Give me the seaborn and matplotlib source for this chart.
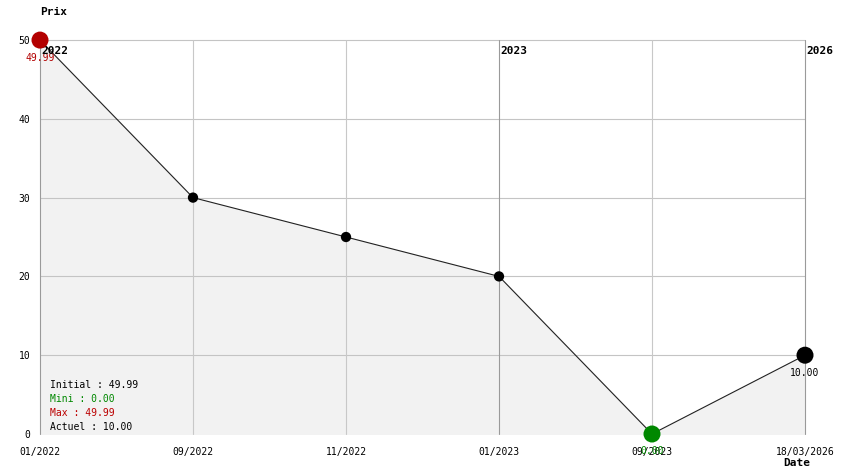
import matplotlib
matplotlib.use("Agg")
import matplotlib.pyplot as plt
import seaborn as sns
import pandas as pd

dates = ["01/2022", "09/2022", "11/2022", "01/2023", "09/2023", "18/03/2026"]
prices = [49.99, 30.0, 25.0, 20.0, 0.0, 10.0]
year_marks = {0: "2022", 3: "2023", 5: "2026"}
summary = [("Initial : 49.99", "black"), ("Mini : 0.00", "#008800"),
           ("Max : 49.99", "#bb0000"), ("Actuel : 10.00", "black")]

sns.set_theme(style="white")
plt.rcParams["font.family"] = ["DejaVu Sans Mono"]
plt.rcParams["text.color"] = "black"
plt.rcParams["xtick.color"] = "black"
plt.rcParams["ytick.color"] = "black"

df = pd.DataFrame({"pos": range(len(dates)), "price": prices})

fig = plt.figure(figsize=(8.44, 4.74), dpi=100)
ax = fig.add_axes([40/844, 1-434/474, 765/844, 394/474])
ax.set_xlim(0, 5)
ax.set_ylim(0, 50)

# fill under the curve
ax.fill_between(df["pos"], df["price"], 0, color="#f2f2f2", zorder=0)

# grid
for y in [10, 20, 30, 40, 50]:
    ax.axhline(y, color="#c4c4c4", lw=0.8, zorder=1, clip_on=False)
for i in range(len(dates)):
    c = "#9a9a9a" if i in year_marks else "#c8c8c8"
    ax.axvline(i, color=c, lw=0.8, zorder=1, clip_on=False)

sns.lineplot(data=df, x="pos", y="price", color="#222222", lw=0.8, ax=ax, zorder=2)
mid = df.iloc[1:4]
sns.scatterplot(data=mid, x="pos", y="price", color="black", s=55, edgecolor="none", ax=ax, zorder=3)
imax = int(df["price"].idxmax()); imin = int(df["price"].idxmin()); ilast = len(df) - 1
for idx, col in [(imax, "#b30000"), (imin, "#008800"), (ilast, "black")]:
    sns.scatterplot(x=[idx], y=[prices[idx]], color=col, s=150, edgecolor="none", ax=ax, zorder=6, clip_on=False)

for s in ax.spines.values():
    s.set_visible(False)

ax.set_xticks(range(len(dates)))
ax.set_xticklabels(dates, fontsize=7)
ax.set_yticks([0, 10, 20, 30, 40, 50])
ax.set_yticklabels(["0", "10", "20", "30", "40", "50"], fontsize=7)
ax.tick_params(axis="x", length=0, pad=9, colors="black")
ax.tick_params(axis="y", length=0, pad=7, colors="black")
ax.set_xlabel(""); ax.set_ylabel("")

for i, yr in year_marks.items():
    ax.annotate(yr, (i, 50), xytext=(1, -4), textcoords="offset points",
                ha="left", va="top", fontsize=8, fontweight="bold", color="black",
                zorder=5, annotation_clip=False)

# value labels
ax.annotate(f"{prices[imax]:.2f}", (imax, prices[imax]), xytext=(0, -9), textcoords="offset points",
            ha="center", va="top", fontsize=7, color="#b30000", annotation_clip=False)
ax.annotate(f"{prices[imin]:.2f}", (imin, prices[imin]), xytext=(0, -9), textcoords="offset points",
            ha="center", va="top", fontsize=7, color="#008800", annotation_clip=False)
ax.annotate(f"{prices[ilast]:.2f}", (ilast, prices[ilast]), xytext=(0, -9), textcoords="offset points",
            ha="center", va="top", fontsize=7, color="black", annotation_clip=False)

for k, (txt, col) in enumerate(summary):
    fig.text(50/844, 1-(385+14*k)/474, txt, fontsize=7, color=col, va="center", ha="left")

fig.text(40/844, 1-12/474, "Prix", fontsize=8, fontweight="bold", va="center", ha="left")
fig.text(797/844, 1-463/474, "Date", fontsize=8, fontweight="bold", va="center", ha="center")

fig.savefig("out.png", dpi=100)
